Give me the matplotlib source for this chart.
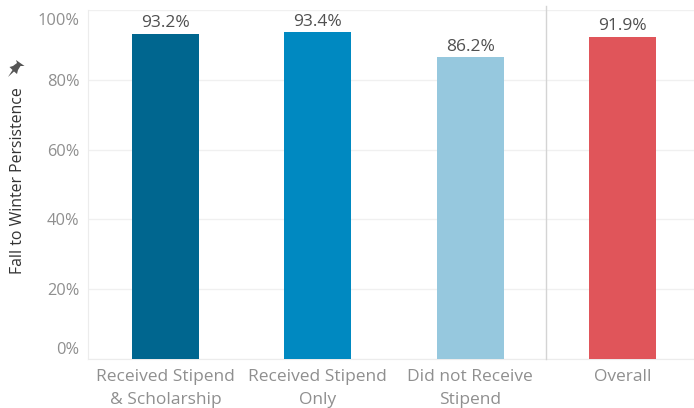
import matplotlib
matplotlib.use('Agg')
import matplotlib.pyplot as plt
from matplotlib.patches import Polygon
from matplotlib.transforms import ScaledTranslation

# --- data ---
categories = ['Received Stipend\n& Scholarship', 'Received Stipend\nOnly', 'Did not Receive\nStipend', 'Overall']
plot_values = [93.2, 93.6, 86.4, 92.4]   # bar heights as drawn
value_labels = ['93.2%', '93.4%', '86.2%', '91.9%']
bar_colors = ['#00668f', '#0089c1', '#96c8de', '#e0555a']
y_ticks = [0, 20, 40, 60, 80, 100]

W, H = 694, 408
plt.rcParams['font.family'] = ['Open Sans', 'DejaVu Sans']

fig = plt.figure(figsize=(W / 100, H / 100), dpi=100)

# axes box in pixels
left, right, top, bottom = 88, 694, 10, 359
ax = fig.add_axes([left / W, 1 - bottom / H, (right - left) / W, (bottom - top) / H])

x = list(range(len(categories)))
ax.bar(x, plot_values, width=0.44, color=bar_colors, zorder=3)
ax.set_xlim(-0.509, 3.47)
ax.set_ylim(0, 100)

for xi, v, lab in zip(x, plot_values, value_labels):
    ax.text(xi, v + 0.8, lab, ha='center', va='bottom', fontsize=12.5, color='#505050')

# y axis labels / grid
ax.set_yticks(y_ticks)
ax.set_yticklabels([f'{t}%' for t in y_ticks], fontsize=11.8, color='#8f8f8f')
ax.set_xticks(x)
ax.set_xticklabels(categories, fontsize=12.5, color='#8f8f8f', linespacing=1.62)
ax.tick_params(axis='both', length=0)
ax.tick_params(axis='x', pad=7)
ax.tick_params(axis='y', pad=6)
ax.grid(axis='y', color='#f0f0f0', linewidth=1, zorder=0)
ax.set_axisbelow(True)

# end labels sit inside the axis range, 0% up and 100% down
ylabels = ax.get_yticklabels()
ylabels[0].set_transform(ylabels[0].get_transform() + ScaledTranslation(0, 11 / 100, fig.dpi_scale_trans))
ylabels[-1].set_transform(ylabels[-1].get_transform() + ScaledTranslation(0, -9 / 100, fig.dpi_scale_trans))

for side in ['top', 'right']:
    ax.spines[side].set_visible(False)
ax.spines['left'].set_color('#ececec')
ax.spines['bottom'].set_color('#ececec')

# divider before Overall
fig.add_artist(plt.Line2D([546 / W, 546 / W], [1 - 6 / H, 1 - 359 / H], color='#d4d4d4', linewidth=1))

fig.text(18 / W, 1 - 181 / H, 'Fall to Winter Persistence', rotation=90, ha='center', va='center',
         fontsize=11.4, color='#333333')

# little pin icon above the axis title
pin = [(8, 77), (12.5, 70), (9.5, 67), (13, 66), (17, 63), (16, 60), (24.5, 66),
       (20.5, 66), (18, 70), (17, 74), (14, 71.5)]
fig.add_artist(Polygon([(px / W, 1 - py / H) for px, py in pin], closed=True,
                       transform=fig.transFigure, facecolor='#555555', edgecolor='none'))

fig.savefig('out.png', dpi=100)
